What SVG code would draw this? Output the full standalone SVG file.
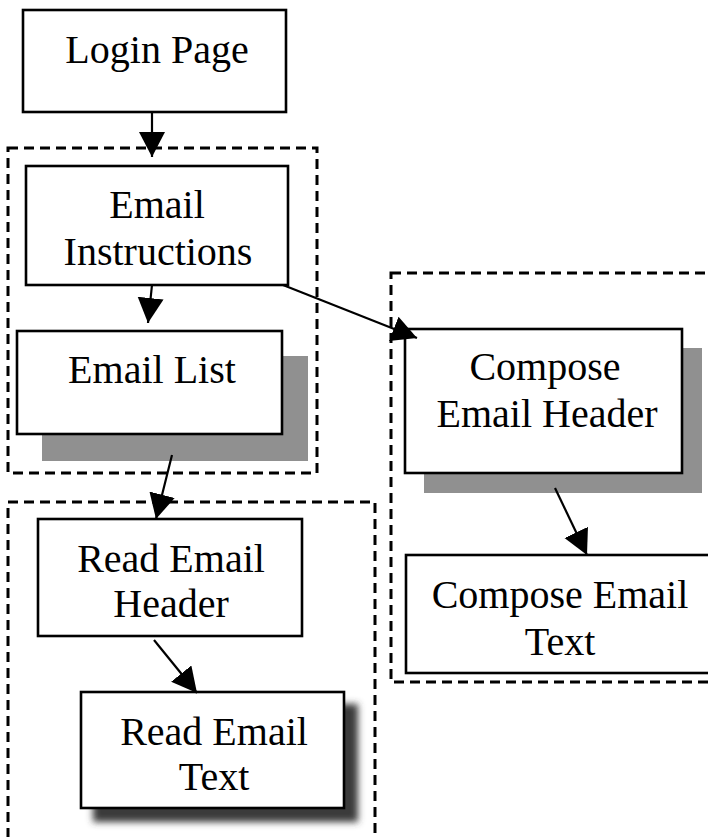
<svg xmlns="http://www.w3.org/2000/svg" width="708" height="837" viewBox="0 0 708 837">
  <defs>
    <style>
      .box { fill: #ffffff; stroke: #000000; stroke-width: 2.6; }
      .shadow { fill: #909090; }
      .group { fill: none; stroke: #000000; stroke-width: 3; stroke-dasharray: 10 6; }
      .label { font-family: "Liberation Serif", "Times New Roman", serif; font-size: 40px; fill: #000000; text-anchor: middle; }
      .edge { fill: none; stroke: #000000; stroke-width: 2.2; marker-end: url(#arrow); }
    </style>
    <marker id="arrow" markerUnits="userSpaceOnUse" markerWidth="28" markerHeight="28" refX="25" refY="13" orient="auto">
      <path d="M0,0 L25,13 L0,26 Z" fill="#000000"/>
    </marker>
    <filter id="blurShadow" x="-10%" y="-10%" width="130%" height="130%">
      <feGaussianBlur stdDeviation="3.5"/>
    </filter>
  </defs>

  <rect width="708" height="837" fill="#ffffff"/>

  <!-- dashed grouping frames -->
  <g id="groups">
    <rect class="group" x="8" y="148" width="309" height="325"/>
    <rect class="group" x="8" y="502" width="367" height="345"/>
    <rect class="group" x="391" y="273" width="330" height="409"/>
  </g>

  <g id="login-page">
    <rect class="box" x="23" y="10" width="263" height="102"/>
    <text class="label" x="157" y="63">Login Page</text>
  </g>

  <g id="email-instructions">
    <rect class="box" x="26" y="166" width="262" height="119"/>
    <text class="label" x="157" y="218">Email</text>
    <text class="label" x="158" y="265">Instructions</text>
  </g>

  <g id="email-list">
    <rect class="shadow" x="42" y="356" width="266" height="105"/>
    <rect class="box" x="17" y="331" width="265" height="103"/>
    <text class="label" x="152" y="383">Email List</text>
  </g>

  <g id="read-email-header">
    <rect class="box" x="38" y="519" width="264" height="117"/>
    <text class="label" x="171" y="572">Read Email</text>
    <text class="label" x="171" y="617">Header</text>
  </g>

  <g id="read-email-text">
    <rect x="93" y="704" width="265" height="118" fill="#3a3a3a" filter="url(#blurShadow)"/>
    <rect class="box" x="81" y="692" width="263" height="116"/>
    <text class="label" x="214" y="745">Read Email</text>
    <text class="label" x="214" y="790">Text</text>
  </g>

  <g id="compose-email-header">
    <rect class="shadow" x="424" y="348" width="278" height="145"/>
    <rect class="box" x="405" y="329" width="277" height="144"/>
    <text class="label" x="545" y="380">Compose</text>
    <text class="label" x="547" y="427">Email Header</text>
  </g>

  <g id="compose-email-text">
    <rect class="box" x="406" y="555" width="308" height="118"/>
    <text class="label" x="560" y="608">Compose Email</text>
    <text class="label" x="560" y="655">Text</text>
  </g>

  <!-- connectors -->
  <g id="connectors">
    <line class="edge" x1="152" y1="112" x2="152" y2="157"/>
    <line class="edge" x1="152" y1="285" x2="148" y2="323"/>
    <line class="edge" x1="172" y1="455" x2="156" y2="519"/>
    <line class="edge" x1="154" y1="640" x2="197" y2="693"/>
    <line class="edge" x1="283" y1="285" x2="417" y2="338"/>
    <line class="edge" x1="555" y1="488" x2="587" y2="555"/>
  </g>
</svg>
